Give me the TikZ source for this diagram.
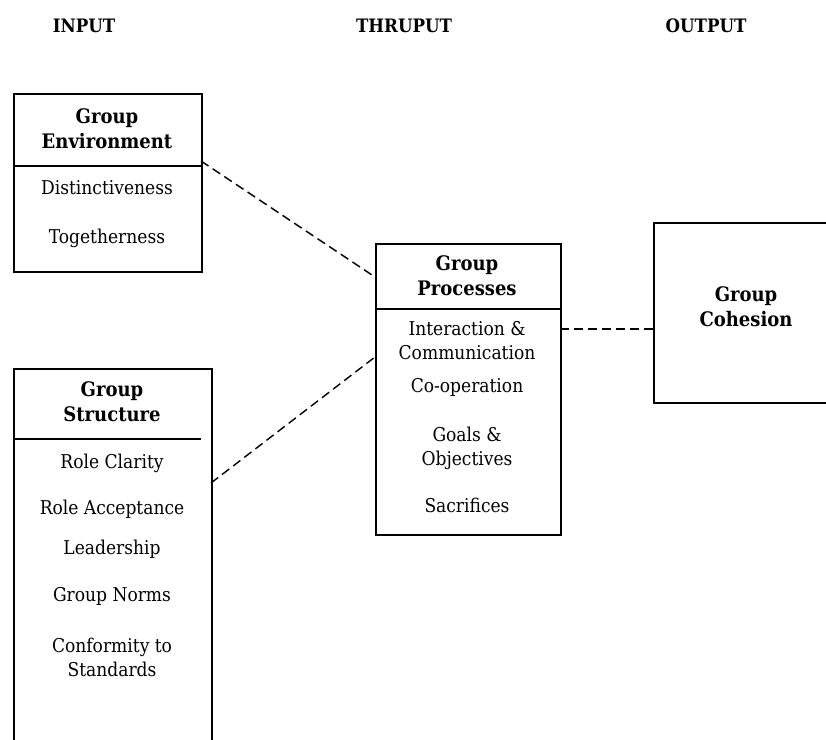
\documentclass[tikz,border=0pt]{standalone}
\usepackage{fontspec}
\setmainfont{DejaVu Serif Condensed}
\begin{document}
\begin{tikzpicture}[x=1pt,y=-1pt,
  box/.style={draw=black, line width=1.8pt, fill=white, anchor=north west, inner sep=0pt},
  rule/.style={line width=1.8pt},
  link/.style={line width=1.4pt, dash pattern=on 9pt off 5pt},
  head/.style={font=\fontsize{18.5}{20}\selectfont\bfseries, inner sep=0pt},
  title/.style={font=\fontsize{20}{25}\selectfont\bfseries, align=center, inner sep=0pt},
  item/.style={font=\fontsize{19}{24}\selectfont, align=center, inner sep=0pt}]
\useasboundingbox (0,0) rectangle (826,739);
\clip (0,0) rectangle (826,739);

% column headings
\node[head] (hin) at (84,26) {INPUT};
\node[head] (hthru) at (404,26) {THRUPUT};
\node[head] (hout) at (706,26) {OUTPUT};

% boxes
\node[box, minimum width=188pt, minimum height=178pt] (env) at (13,93) {};
\node[box, minimum width=198pt, minimum height=400pt] (str) at (13,368) {};
\node[box, minimum width=185pt, minimum height=291pt] (proc) at (375,243) {};
\node[box, minimum width=200pt, minimum height=180pt] (coh) at (653,222) {};

% header dividers
\coordinate (envdl) at (13,166);
\coordinate (envdr) at (201,166);
\draw[rule] (envdl) -- (envdr);
\coordinate (strdl) at (13,439);
\coordinate (strdr) at (201,439);
\draw[rule] (strdl) -- (strdr);
\coordinate (procdl) at (375,309);
\coordinate (procdr) at (560,309);
\draw[rule] (procdl) -- (procdr);

% Group Environment
\node[title] (envt) at (107,129) {Group\\Environment};
\node[item] (env1) at (107,188) {Distinctiveness};
\node[item] (env2) at (107,238) {Togetherness};

% Group Structure
\node[title] (strt) at (112,402) {Group\\Structure};
\node[item] (str1) at (112,463) {Role Clarity};
\node[item] (str2) at (112,509) {Role Acceptance};
\node[item] (str3) at (112,549) {Leadership};
\node[item] (str4) at (112,596) {Group Norms};
\node[item] (str5) at (112,657) {Conformity to\\Standards};

% Group Processes
\node[title] (proct) at (467,276) {Group\\Processes};
\node[item] (proc1) at (467,341) {Interaction \&\\Communication};
\node[item] (proc2) at (467,387) {Co-operation};
\node[item] (proc3) at (467,448) {Goals \&\\Objectives};
\node[item] (proc4) at (467,505) {Sacrifices};

% Group Cohesion
\node[title] (coht) at (746,307) {Group\\Cohesion};

% dashed links
\coordinate (a1) at (201,161);
\coordinate (a2) at (375,277);
\coordinate (b1) at (211,483);
\coordinate (b2) at (375,357);
\coordinate (c1) at (560,329);
\coordinate (c2) at (653,329);
\draw[link] (a1) -- (a2);
\draw[link] (b1) -- (b2);
\draw[link] (c1) -- (c2);
\end{tikzpicture}
\end{document}
